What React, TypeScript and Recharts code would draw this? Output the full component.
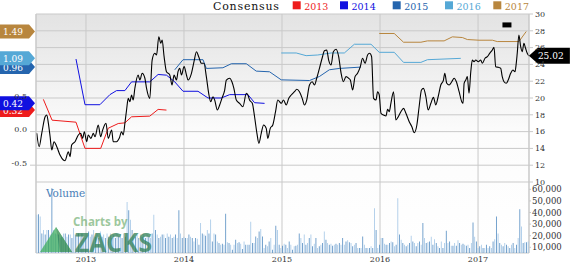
import React from 'react';
import {
  ComposedChart,
  Line,
  Bar,
  Cell,
  XAxis,
  YAxis,
  CartesianGrid,
  ReferenceDot,
} from 'recharts';

// time axis is in decimal years
const yearTicks = [2013, 2014, 2015, 2016, 2017];
const timeDomain: [number, number] = [2012.49, 2017.52];
const priceTicks = [10, 12, 14, 16, 18, 20, 22, 24, 26, 28, 30];
const epsTicks = [-0.5, 0, 0.5];
const volumeTicks = [10, 20, 30, 40, 50, 60]; // thousands

// [date, closing price]
const priceHistory: [number, number][] = [
  [2012.498, 15.8], [2012.522, 14.2], [2012.549, 15.83], [2012.583, 17.77], [2012.6, 17.98],
  [2012.616, 17.02], [2012.634, 15.39], [2012.651, 13.81], [2012.674, 14.8], [2012.702, 14.2],
  [2012.735, 13.21], [2012.769, 12.62], [2012.786, 12.54], [2012.82, 13.61], [2012.837, 13.01],
  [2012.854, 14.4], [2012.888, 14.8], [2012.922, 15.6], [2012.946, 15.8], [2012.966, 15.2],
  [2012.983, 15.99], [2013.007, 14.8], [2013.023, 15.6], [2013.051, 15.2], [2013.074, 15.8],
  [2013.092, 15.39], [2013.125, 16.79], [2013.15, 15.39], [2013.17, 16.19], [2013.204, 16.99],
  [2013.227, 15.2], [2013.262, 16.19], [2013.278, 14.8], [2013.312, 14.8], [2013.339, 15.2],
  [2013.363, 15.99], [2013.38, 15.6], [2013.397, 16.99], [2013.414, 18.57], [2013.431, 19.96],
  [2013.448, 19.56], [2013.465, 20.36], [2013.481, 19.76], [2013.499, 21.19], [2013.532, 22.74],
  [2013.55, 22.14], [2013.573, 22.94], [2013.601, 22.35], [2013.618, 21.15], [2013.651, 19.96],
  [2013.675, 24.52], [2013.702, 25.32], [2013.72, 25.12], [2013.743, 27.3], [2013.763, 26.51],
  [2013.777, 26.9], [2013.797, 24.92], [2013.821, 23.13], [2013.855, 22.74], [2013.878, 21.55],
  [2013.899, 22.74], [2013.923, 22.14], [2013.939, 23.13], [2013.957, 23.54], [2013.974, 22.74],
  [2014.001, 23.73], [2014.025, 22.74], [2014.041, 22.14], [2014.076, 22.94], [2014.102, 24.32],
  [2014.127, 25.51], [2014.15, 24.92], [2014.178, 24.13], [2014.204, 24.13], [2014.228, 22.54],
  [2014.252, 20.56], [2014.272, 19.56], [2014.296, 20.15], [2014.313, 19.76], [2014.34, 18.57],
  [2014.364, 19.17], [2014.387, 19.96], [2014.415, 20.95], [2014.432, 22.14], [2014.466, 22.35],
  [2014.489, 21.94], [2014.509, 21.15], [2014.534, 19.76], [2014.567, 19.37], [2014.601, 18.96],
  [2014.636, 20.56], [2014.652, 20.36], [2014.669, 19.76], [2014.697, 19.37], [2014.72, 17.77],
  [2014.744, 15.8], [2014.764, 14.61], [2014.788, 15.8], [2014.812, 16.79], [2014.839, 16.39],
  [2014.855, 15.2], [2014.88, 16.39], [2014.906, 16.79], [2014.934, 18.37], [2014.957, 19.76],
  [2014.992, 19.37], [2015.015, 19.76], [2015.043, 19.17], [2015.069, 19.96], [2015.094, 20.36],
  [2015.127, 20.75], [2015.151, 21.04], [2015.178, 20.75], [2015.206, 19.96], [2015.229, 19.17],
  [2015.252, 19.76], [2015.28, 21.55], [2015.307, 21.94], [2015.331, 21.55], [2015.354, 22.35],
  [2015.382, 23.54], [2015.409, 24.73], [2015.433, 25.63], [2015.456, 25.71], [2015.476, 24.52],
  [2015.501, 23.93], [2015.524, 25.51], [2015.552, 25.8], [2015.578, 24.92], [2015.603, 22.94],
  [2015.626, 21.94], [2015.653, 22.54], [2015.68, 22.35], [2015.697, 22.14], [2015.721, 20.95],
  [2015.745, 22.54], [2015.771, 22.94], [2015.799, 23.73], [2015.822, 24.73], [2015.847, 24.13],
  [2015.873, 25.12], [2015.894, 25.32], [2015.914, 24.92], [2015.934, 19.96], [2015.959, 19.76],
  [2015.975, 20.75], [2015.992, 20.36], [2016.01, 18.18], [2016.036, 17.98], [2016.061, 17.86],
  [2016.077, 18.65], [2016.094, 18.37], [2016.111, 19.37], [2016.138, 20.75], [2016.162, 17.38],
  [2016.186, 17.77], [2016.213, 18.37], [2016.24, 18.77], [2016.264, 18.18], [2016.298, 17.18],
  [2016.325, 16.58], [2016.349, 15.87], [2016.376, 16.79], [2016.399, 18.96], [2016.423, 20.95],
  [2016.443, 21.15], [2016.468, 20.15], [2016.491, 18.57], [2016.519, 19.37], [2016.545, 20.08],
  [2016.569, 19.17], [2016.593, 20.15], [2016.62, 21.55], [2016.647, 22.14], [2016.661, 22.94],
  [2016.681, 21.75], [2016.705, 21.55], [2016.732, 21.94], [2016.756, 22.35], [2016.779, 21.94],
  [2016.807, 20.75], [2016.834, 19.56], [2016.847, 19.37], [2016.858, 21.75], [2016.875, 22.14],
  [2016.891, 22.54], [2016.908, 20.56], [2016.926, 23.13], [2016.942, 24.52], [2016.959, 24.32],
  [2016.977, 24.52], [2017.003, 24.32], [2017.027, 24.52], [2017.044, 24.13], [2017.071, 24.73],
  [2017.095, 24.92], [2017.119, 25.32], [2017.146, 25.71], [2017.163, 26.04], [2017.18, 23.73],
  [2017.207, 23.65], [2017.231, 23.54], [2017.247, 22.54], [2017.265, 21.94], [2017.288, 21.75],
  [2017.308, 22.14], [2017.333, 22.94], [2017.356, 23.33], [2017.377, 23.13], [2017.39, 24.13],
  [2017.4, 25.32], [2017.417, 27.5], [2017.435, 26.11], [2017.451, 25.51], [2017.468, 26.51],
  [2017.485, 25.92], [2017.502, 25.32], [2017.519, 25.02],
];

// consensus EPS estimate per fiscal year: [date, estimate]
const eps2013: [number, number][] = [
  [2012.565, 0.48], [2012.654, 0.17], [2012.898, 0.14], [2012.99, -0.25], [2013.15, -0.25],
  [2013.227, 0.05], [2013.329, 0.12], [2013.397, 0.13], [2013.465, 0.22], [2013.651, 0.23],
  [2013.736, 0.33], [2013.821, 0.32],
];
const eps2014: [number, number][] = [
  [2012.898, 1.08], [2012.99, 0.4], [2013.142, 0.4], [2013.244, 0.55], [2013.312, 0.61],
  [2013.397, 0.61], [2013.465, 0.74], [2013.651, 0.74], [2013.736, 0.85], [2013.821, 0.84],
  [2013.906, 0.74], [2013.99, 0.6], [2014.143, 0.6], [2014.245, 0.5], [2014.381, 0.5],
  [2014.466, 0.55], [2014.652, 0.55], [2014.72, 0.43], [2014.822, 0.42],
];
const eps2015: [number, number][] = [
  [2013.906, 0.92], [2013.99, 1.07], [2014.194, 1.07], [2014.228, 0.94], [2014.397, 0.95],
  [2014.483, 1.01], [2014.636, 1.01], [2014.737, 0.9], [2014.873, 0.89], [2014.992, 0.77],
  [2015.28, 0.76], [2015.382, 0.82], [2015.483, 0.92], [2015.585, 0.94], [2015.806, 0.96],
];
const eps2016: [number, number][] = [
  [2014.992, 1.17], [2015.145, 1.17], [2015.246, 1.13], [2015.364, 1.14], [2015.501, 1.17],
  [2015.636, 1.17], [2015.738, 1.3], [2015.908, 1.3], [2015.992, 1.18], [2016.145, 1.18],
  [2016.24, 1.03], [2016.417, 1.03], [2016.484, 1.07], [2016.824, 1.09],
];
const eps2017: [number, number][] = [
  [2015.992, 1.46], [2016.145, 1.46], [2016.24, 1.33], [2016.417, 1.33], [2016.484, 1.35],
  [2016.654, 1.35], [2016.738, 1.41], [2016.84, 1.4], [2016.891, 1.37], [2017.01, 1.36],
  [2017.146, 1.36], [2017.196, 1.34], [2017.417, 1.34], [2017.492, 1.49],
];

const consensusYears = ['2013', '2014', '2015', '2016', '2017'];
const consensusColors = ['#ee1c1c', '#1010e0', '#2565ae', '#55a8d6', '#b8863e'];
const latestEstimates = [0.32, 0.42, 0.96, 1.09, 1.49];

const lastClose = 25.02;
const nextReport: [number, number] = [2017.295, 28.7];

// weekly volume, thousands of shares
const volumes = [
  38, 38.6, 36.6, 22, 25, 21, 25, 25, 21, 61, 25, 22, 21, 21, 18, 19, 22, 22, 19, 21,
  21, 18, 26.6, 21, 21, 22, 19, 22, 19, 18, 21, 23.7, 19, 21, 25, 19, 22, 18, 23.7, 19,
  21, 18, 22, 19, 22, 18, 21, 18, 22, 19, 21, 18, 22, 19, 49, 42, 33.7, 25, 22, 19,
  21, 18, 21, 19, 22, 18, 21, 19, 18, 22, 38, 25, 21, 18, 19, 21, 21, 18, 22, 19,
  21, 18, 19, 21, 18, 42, 22, 18, 19, 18, 18, 21, 19,
  18, 15, 18, 17.4, 12.3, 31, 22, 21, 20, 25, 22, 34, 15, 22, 21, 15, 13.7, 12.3, 13, 12.3,
  39, 14.3, 13.7, 12.3, 8, 12.3, 16.6, 13.7, 14.3, 13, 8.6, 15, 12.3, 12.3, 12.3, 32, 13.7, 13.7, 19.4, 18,
  23.7, 25.7, 19.4, 9.4, 12.3, 10.9, 15, 18, 8, 12.3, 28.6, 25, 12.3, 9.4, 11.4, 13, 12.3, 9.4, 15, 12.3,
  8, 10.9, 11.4, 12.3, 22, 18, 13.7, 21, 12.3, 13.7, 18, 21, 10.9, 13, 18, 9.4, 10.9, 12.3, 13.7, 23.7,
  16.6, 13.7, 12.3, 13, 11.4, 12.3, 13, 12.3, 13.7, 12.3, 18, 12.3, 15, 16, 14.3, 13.7, 10.9, 12.3, 13.7, 9.4,
  9.4, 9.4, 19.4, 12.3, 9.4, 9.4, 9.4, 10.9, 9.4, 43.7, 25, 9.4, 12.3, 18,
  18, 13, 12.3, 12.3, 13.7, 15, 14.3, 10.9, 12.3, 52.3, 21, 16.6, 13.7, 12.3, 10.9, 12.3, 13.7, 20, 15, 13.7,
  10.9, 13.7, 15, 12.3, 31, 18, 13.7, 14.3, 15, 19, 12.3, 17, 13.7, 10.9, 9.4, 15, 9.4, 13.7, 24.3, 13.7,
  15, 11.4, 11.4, 13.7, 11.4, 16, 13.7, 12.3, 13, 12.3, 11.4, 12.3, 9.4, 13.7, 31.4, 19, 15, 9.4, 10.9, 12.3,
  9.4, 9.4, 12.3, 9.4, 10.9, 9.4, 15, 17, 36.6, 22, 13.7, 12.3, 10.9, 13.7, 12.3, 10.9, 9.4, 12.3, 13.7, 9.4,
  12.3, 18, 42.9, 28, 13.7, 14.3, 14.3, 15,
];

const GRID = '#c9c9c9';
const FONT = 'DejaVu Serif';
const tickStyle = { fontSize: 8, fill: '#333', fontFamily: FONT };

const toPoints = (rows: [number, number][]) => rows.map(([t, v]) => ({ t, v }));

const LeftBadge = (color: string, text: string) => (props: any) => {
  const { cx, cy } = props;
  if (cx == null || cy == null) return null;
  return (
    <g>
      <polygon
        points={`0,${cy - 7} ${cx - 7},${cy - 7} ${cx - 1},${cy} ${cx - 7},${cy + 7} 0,${cy + 7}`}
        fill={color}
      />
      <text x={3} y={cy + 3.5} fill="#fff" fontSize={9} fontFamily={FONT}>
        {text}
      </text>
    </g>
  );
};

const PriceBadge = (props: any) => {
  const { cx, cy } = props;
  if (cx == null || cy == null) return null;
  return (
    <g>
      <polygon
        points={`${cx},${cy} ${cx + 9},${cy - 8} ${cx + 41},${cy - 8} ${cx + 41},${cy + 8} ${cx + 9},${cy + 8}`}
        fill="#000"
      />
      <text x={cx + 9} y={cy + 3.5} fill="#fff" fontSize={9} fontFamily={FONT}>
        {lastClose.toFixed(2)}
      </text>
    </g>
  );
};

const ReportMark = (props: any) => {
  const { cx, cy } = props;
  if (cx == null || cy == null) return null;
  return <rect x={cx - 4.5} y={cy - 2.5} width={9} height={5} fill="#000" />;
};

export default function App() {
  const priceData = toPoints(priceHistory);
  const epsSeries = [eps2013, eps2014, eps2015, eps2016, eps2017].map(toPoints);
  const volumeData = volumes.map((v, i) => ({ i, v }));

  // the price panel spans y 14..182 and the volume panel 182..253 of one plot;
  // price and EPS axes run past their visible range so that the lower panel is free
  const priceDomain = [1.55, 30];
  const epsDomain = [-1.807, 1.75];

  return (
    <div style={{ position: 'absolute', left: 0, top: 0, width: 570, height: 264, background: '#fff', fontFamily: FONT }}>
      <div style={{ position: 'absolute', left: 0, top: 0 }}>
        <ComposedChart width={570} height={264} margin={{ top: 14, right: 0, bottom: 0, left: 0 }}>
          <defs>
            <linearGradient id="plotBg" x1="0" y1="0" x2="0" y2="1">
              <stop offset="0" stopColor="#e3e3e3" />
              <stop offset="0.5" stopColor="#fcfcfc" />
              <stop offset="1" stopColor="#ffffff" />
            </linearGradient>
          </defs>
          <XAxis
            xAxisId="t"
            dataKey="t"
            type="number"
            domain={timeDomain}
            ticks={yearTicks}
            allowDataOverflow
            tickLine={false}
            axisLine={false}
            tickSize={0}
            tickMargin={3}
            tick={tickStyle}
            interval={0}
            height={11}
          />
          <YAxis
            yAxisId="p"
            orientation="right"
            domain={priceDomain}
            ticks={priceTicks}
            allowDataOverflow
            interval={0}
            width={41}
            tickSize={4}
            tickMargin={2}
            tick={tickStyle}
            axisLine={{ stroke: GRID }}
            tickLine={{ stroke: GRID }}
          />
          <YAxis
            yAxisId="e"
            orientation="left"
            domain={epsDomain}
            ticks={epsTicks}
            allowDataOverflow
            interval={0}
            width={36}
            tickSize={6}
            tickMargin={3}
            tick={{ ...tickStyle, dy: -2 }}
            tickFormatter={(v: number) => v.toFixed(1)}
            axisLine={{ stroke: GRID }}
            tickLine={{ stroke: GRID }}
          />
          <CartesianGrid xAxisId="t" yAxisId="p" stroke={GRID} fill="url(#plotBg)" fillOpacity={1} />
          {epsSeries.map((pts, k) => (
            <Line
              key={consensusYears[k]}
              xAxisId="t"
              yAxisId="e"
              data={pts}
              dataKey="v"
              type="linear"
              stroke={consensusColors[k]}
              strokeWidth={1}
              dot={false}
              isAnimationActive={false}
            />
          ))}
          <Line
            xAxisId="t"
            yAxisId="p"
            data={priceData}
            dataKey="v"
            type="monotone"
            stroke="#000"
            strokeWidth={1.1}
            dot={false}
            isAnimationActive={false}
          />
          <ReferenceDot xAxisId="t" yAxisId="p" x={nextReport[0]} y={nextReport[1]} r={0} shape={ReportMark} ifOverflow="visible" />
          {latestEstimates.map((v, k) => (
            <ReferenceDot
              key={'b' + k}
              xAxisId="t"
              yAxisId="e"
              x={timeDomain[0]}
              y={v}
              r={0}
              ifOverflow="visible"
              shape={LeftBadge(consensusColors[k], v.toFixed(2))}
            />
          ))}
          <ReferenceDot
            xAxisId="t"
            yAxisId="p"
            x={priceHistory[priceHistory.length - 1][0]}
            y={lastClose}
            r={0}
            ifOverflow="visible"
            shape={PriceBadge}
          />
        </ComposedChart>
      </div>

      <div style={{ position: 'absolute', left: 0, top: 182 }}>
        <ComposedChart width={570} height={71} data={volumeData} margin={{ top: 0, right: 0, bottom: 0, left: 36 }} barCategoryGap="25%">
          <XAxis xAxisId="c" dataKey="i" type="category" hide />
          <YAxis
            yAxisId="v"
            orientation="right"
            domain={[5.1, 66.3]}
            ticks={volumeTicks}
            allowDataOverflow
            interval={0}
            width={41}
            tickSize={2}
            tickMargin={1}
            tick={{ ...tickStyle, fontSize: 8.5 }}
            tickFormatter={(v: number) => `${v},000`}
            axisLine={false}
            tickLine={{ stroke: GRID }}
          />
          <Bar xAxisId="c" yAxisId="v" dataKey="v" isAnimationActive={false}>
            {volumeData.map((d) => (
              <Cell key={d.i} fill={d.i % 2 === 0 ? '#a6c8e7' : '#5b91c4'} />
            ))}
          </Bar>
        </ComposedChart>
      </div>

      <svg width={570} height={264} style={{ position: 'absolute', left: 0, top: 0, pointerEvents: 'none' }}>
        <text x={213} y={9.5} fontSize={11} fontFamily={FONT} fill="#111" textLength={66} lengthAdjust="spacing">
          Consensus
        </text>
        {consensusYears.map((yr, k) => {
          const x0 = [292.7, 340, 392.7, 445, 493.3][k];
          return (
            <g key={yr}>
              <rect x={x0} y={1.3} width={8} height={8} fill={consensusColors[k]} />
              <text x={x0 + 11.5} y={9.5} fontSize={9.5} fontFamily={FONT} fill={consensusColors[k]}>
                {yr}
              </text>
            </g>
          );
        })}
        <text x={46} y={197} fontSize={10.5} fontFamily={FONT} fill="#4a80b8">
          Volume
        </text>
        <g opacity={0.75}>
          <text x={73} y={226} fontSize={11.5} fontWeight="bold" fontFamily="Open Sans" fill="#7db57d">
            Charts by
          </text>
          <polygon points="40,252 56,227 72,252" fill="#3fae5f" />
          <polygon points="56,227 72,252 60,252" fill="#2c8a4a" />
          <text x={75} y={252} fontSize={26} fontWeight="bold" fontFamily="Open Sans" fill="#2f7f55" textLength={77} lengthAdjust="spacingAndGlyphs">
            ZACKS
          </text>
        </g>
      </svg>
    </div>
  );
}
